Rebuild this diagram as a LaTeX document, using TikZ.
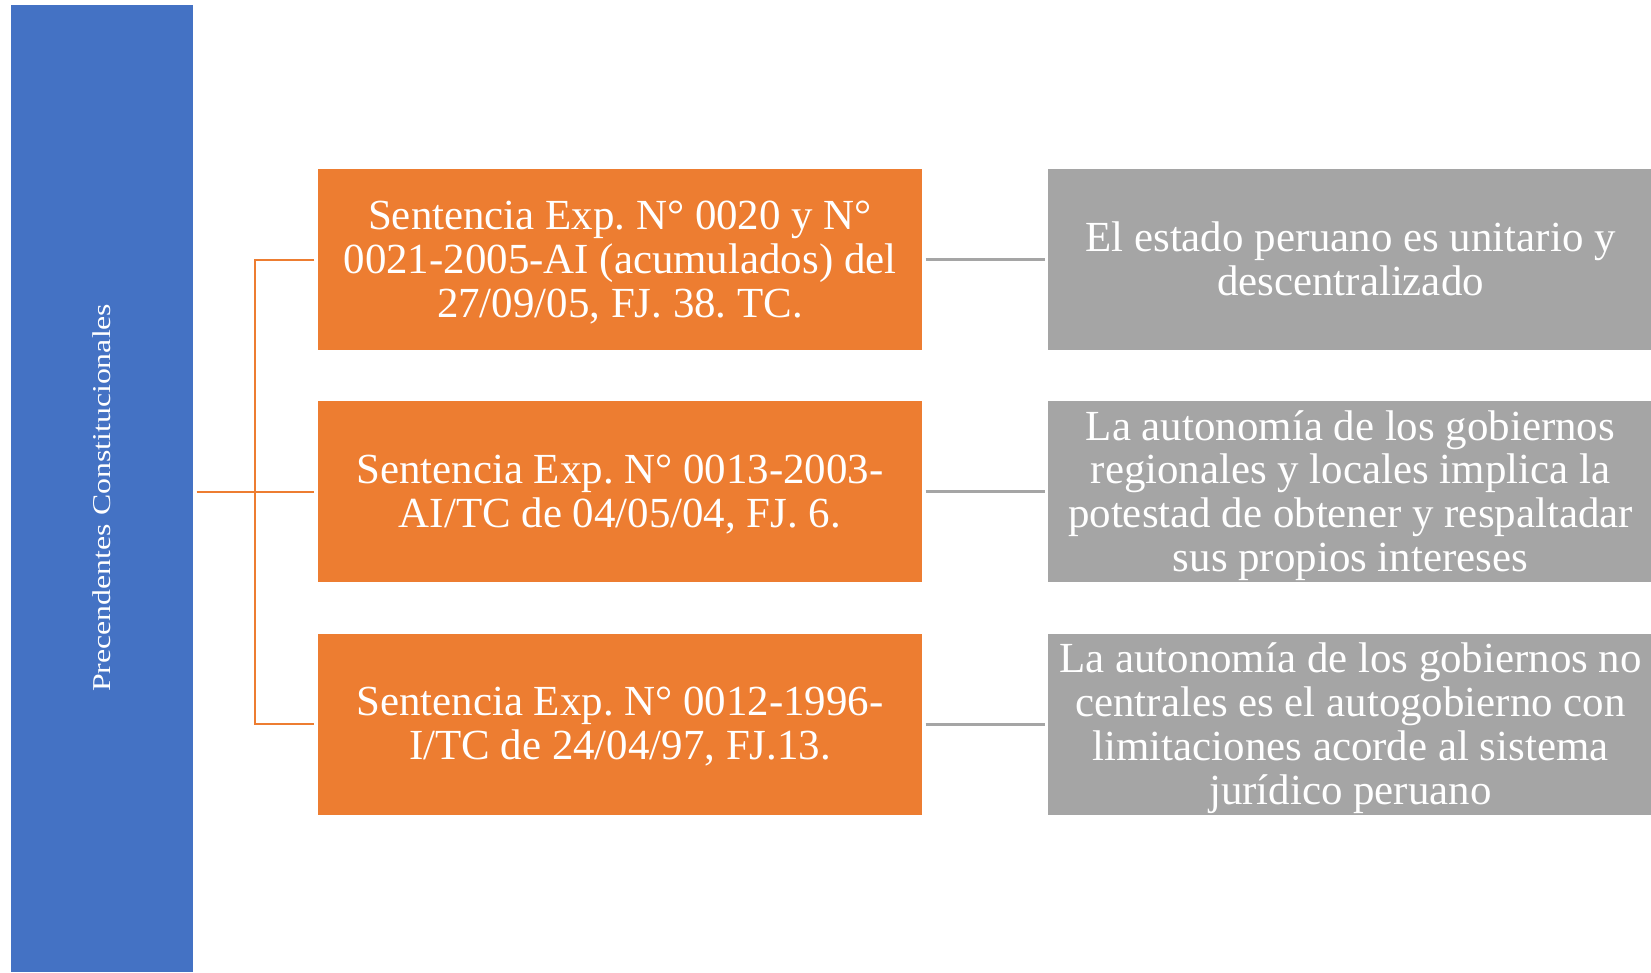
\documentclass[tikz,border=0pt]{standalone}
\usepackage{fontspec}
\setmainfont{Liberation Serif}
\usetikzlibrary{positioning,calc}
\definecolor{precblue}{HTML}{4472C4}
\definecolor{sentorange}{HTML}{ED7D31}
\definecolor{ideagray}{HTML}{A5A5A5}
\newcommand{\boxw}{6.05cm}
\newcommand{\boxh}{1.82cm}
\newcommand{\boxfont}{\fontsize{12.2pt}{12.5pt}\selectfont}
\frenchspacing
\tikzset{
    precsty/.style={fill=precblue,draw=white,line width=0.3pt,minimum width=1.83cm,minimum height=9.67cm,inner sep=0pt},
    prectxtsty/.style={rotate=90,text=white,font=\fontsize{7.3pt}{8pt}\selectfont,inner sep=0pt},
    sentsty/.style={fill=sentorange,draw=white,line width=0.3pt,minimum width=\boxw,minimum height=\boxh,inner sep=0pt,text depth=0.5pt,text=white,align=center,font=\boxfont},
    ideasty/.style={fill=ideagray,draw=white,line width=0.3pt,minimum width=\boxw,minimum height=\boxh,inner sep=0pt,text depth=0.5pt,text=white,align=center,font=\boxfont},
    branchsty/.style={draw=sentorange,line width=0.6pt,shorten <=0.7pt,shorten >=0.7pt},
    linksty/.style={draw=ideagray,line width=0.8pt,shorten <=0.7pt,shorten >=0.7pt},
}

\begin{document}
\begin{tikzpicture}[x=0.01cm,y=-0.01cm]
\useasboundingbox (0,0) rectangle (1651,972);

% left bar
\node[precsty] (prec) at (102,488.7) {};
\node[prectxtsty] (prectxt) at ($(prec.center)+(0,9)$) {\scalebox{1.24}[1]{Precendentes Constitucionales}};

% sentences
\node[sentsty] (sent1) at (620,259.7) {Sentencia Exp. N° 0020 y N°\\0021-2005-AI (acumulados) del\\27/09/05, FJ. 38. TC.};
\node[sentsty,below=0.49cm of sent1] (sent2) {Sentencia Exp. N° 0013-2003-\\AI/TC de 04/05/04, FJ. 6.};
\node[sentsty,below=0.49cm of sent2] (sent3) {Sentencia Exp. N° 0012-1996-\\I/TC de 24/04/97, FJ.13.};

% ideas
\node[ideasty,right=1.24cm of sent1] (idea1) {El estado peruano es unitario y\\descentralizado};
\node[ideasty,right=1.24cm of sent2] (idea2) {La autonomía de los gobiernos\\regionales y locales implica la\\potestad de obtener y respaltadar\\sus propios intereses};
\node[ideasty,right=1.24cm of sent3] (idea3) {La autonomía de los gobiernos no\\centrales es el autogobierno con\\limitaciones acorde al sistema\\jurídico peruano};

% connectors
\coordinate (fork) at ($(prec.east |- sent2.west)!0.5!(sent2.west)$);
\draw[branchsty] (prec.east |- sent2.west) -- (sent2.west);
\draw[branchsty] (sent1.west) -| (fork) |- (sent3.west);

\draw[linksty] (sent1) -- (idea1);
\draw[linksty] (sent2) -- (idea2);
\draw[linksty] (sent3) -- (idea3);

\end{tikzpicture}
\end{document}
